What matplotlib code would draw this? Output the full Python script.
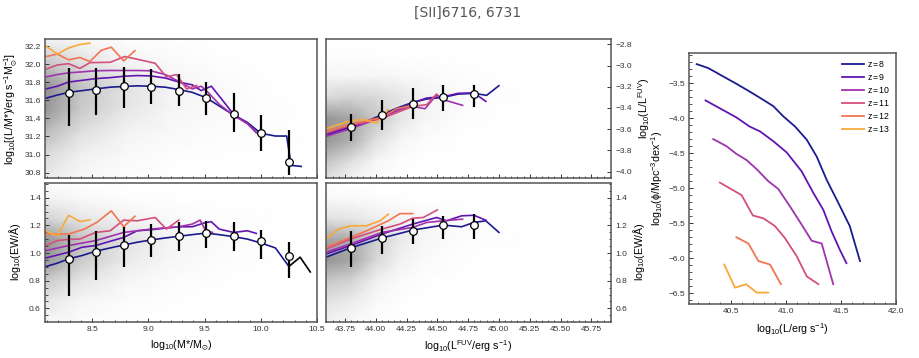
import numpy as np
import matplotlib
matplotlib.use("Agg")
import matplotlib.pyplot as plt
from matplotlib.ticker import MultipleLocator
from matplotlib import font_manager

names = {f.name for f in font_manager.fontManager.ttflist}
narrow = 'Liberation Sans Narrow' if 'Liberation Sans Narrow' in names else 'Liberation Sans'
plt.rcParams['font.family'] = [narrow, 'DejaVu Sans']
plt.rcParams['mathtext.fontset'] = 'custom'
plt.rcParams['mathtext.rm'] = narrow
plt.rcParams['mathtext.it'] = narrow + ':italic'
plt.rcParams['mathtext.default'] = 'regular'

# ---------------- data ----------------
redshifts = [8, 9, 10, 11, 12, 13]
colors = ['#1b1b8f', '#6015b3', '#a032ae', '#d44f7e', '#f27552', '#f9a93a']

# top-left: log10(L/M*) vs log10(M*)
tl_x = {8: [8.09, 8.19, 8.29, 8.41, 8.53, 8.66, 8.78, 8.90, 9.02, 9.15, 9.27, 9.39, 9.51, 9.63, 9.76, 9.88, 10.0, 10.13, 10.23, 10.27, 10.36],
        9: [8.09, 8.19, 8.29, 8.41, 8.53, 8.66, 8.78, 8.90, 9.02, 9.15, 9.27, 9.39, 9.47, 9.56, 9.76, 9.88, 9.96],
        10: [8.09, 8.19, 8.29, 8.41, 8.53, 8.66, 8.78, 8.90, 9.02, 9.15, 9.27, 9.39, 9.47, 9.53, 9.63, 9.76, 9.88, 9.96],
        11: [8.09, 8.19, 8.29, 8.39, 8.48, 8.66, 8.79, 8.925, 9.06, 9.16, 9.25, 9.34, 9.43],
        12: [8.09, 8.19, 8.29, 8.39, 8.48, 8.58, 8.67, 8.78, 8.88],
        13: [8.09, 8.19, 8.29, 8.39, 8.48]}
tl_y = {8: [31.625, 31.659, 31.689, 31.708, 31.727, 31.746, 31.754, 31.761, 31.757, 31.746, 31.72, 31.689, 31.632, 31.538, 31.436, 31.356, 31.235, 31.205, 31.205, 30.88, 30.868],
        9: [31.727, 31.757, 31.803, 31.822, 31.841, 31.852, 31.867, 31.875, 31.871, 31.848, 31.803, 31.772, 31.708, 31.757, 31.443, 31.349, 31.243],
        10: [31.86, 31.886, 31.905, 31.916, 31.928, 31.931, 31.931, 31.931, 31.928, 31.886, 31.81, 31.727, 31.757, 31.689, 31.557, 31.432, 31.341, 31.243],
        11: [31.947, 31.992, 32.007, 31.954, 32.018, 32.022, 32.086, 32.049, 32.011, 31.86, 31.886, 31.727, 31.765],
        12: [32.086, 32.113, 32.049, 32.075, 32.03, 32.155, 32.189, 32.037, 32.151],
        13: [32.2, 32.113, 32.181, 32.219, 32.234]}
mass_bins = [8.29, 8.53, 8.78, 9.02, 9.27, 9.51, 9.76, 10.0, 10.25]
tl_med = [31.678, 31.72, 31.754, 31.746, 31.708, 31.625, 31.45, 31.235, 30.913]
tl_lo = [31.311, 31.436, 31.515, 31.56, 31.538, 31.443, 31.254, 31.038, 30.774]
tl_hi = [31.954, 31.96, 31.965, 31.946, 31.894, 31.80, 31.678, 31.443, 31.273]

# bottom-left: log10(EW) vs log10(M*)
bl_x = {8: [8.09, 8.19, 8.29, 8.41, 8.53, 8.66, 8.78, 8.90, 9.02, 9.15, 9.27, 9.39, 9.51, 9.63, 9.76, 9.88, 10.0, 10.13, 10.25],
        9: [8.09, 8.29, 8.41, 8.53, 8.66, 8.78, 8.90, 9.02, 9.15, 9.27, 9.39, 9.51, 9.56, 9.63, 9.76, 9.88, 9.96],
        10: [8.09, 8.29, 8.53, 8.78, 9.02, 9.27, 9.39, 9.46, 9.51, 9.57],
        11: [8.09, 8.19, 8.29, 8.39, 8.53, 8.66, 8.78, 8.90, 9.06, 9.16, 9.27],
        12: [8.09, 8.29, 8.43, 8.54, 8.67, 8.78, 8.88],
        13: [8.09, 8.19, 8.29, 8.39, 8.48]}
bl_y = {8: [0.903, 0.927, 0.958, 0.982, 1.013, 1.037, 1.058, 1.078, 1.094, 1.109, 1.121, 1.133, 1.144, 1.133, 1.118, 1.101, 1.073, 1.037, 0.903],
        9: [0.965, 1.006, 1.042, 1.054, 1.085, 1.113, 1.161, 1.168, 1.18, 1.19, 1.19, 1.221, 1.226, 1.173, 1.149, 1.161, 1.142],
        10: [1.018, 1.054, 1.09, 1.149, 1.173, 1.19, 1.209, 1.238, 1.161, 1.149],
        11: [1.054, 1.09, 1.099, 1.101, 1.149, 1.161, 1.238, 1.233, 1.257, 1.173, 1.238],
        12: [1.137, 1.137, 1.173, 1.221, 1.305, 1.19, 1.266],
        13: [1.156, 1.125, 1.273, 1.228, 1.24]}
bl_all_x = [10.25, 10.35, 10.44]
bl_all_y = [0.903, 0.97, 0.863]
bl_med = [0.958, 1.011, 1.058, 1.097, 1.121, 1.142, 1.121, 1.09, 0.975]
bl_lo = [0.688, 0.808, 0.898, 0.97, 1.018, 1.037, 1.013, 0.958, 0.822]
bl_hi = [1.13, 1.161, 1.185, 1.209, 1.226, 1.233, 1.226, 1.168, 1.078]

# top-middle: log10(L/LFUV) vs log10(LFUV)
tm_x = {8: [43.596, 43.796, 43.926, 44.048, 44.175, 44.30, 44.413, 44.548, 44.67, 44.797, 44.90, 45.0],
        9: [43.596, 43.796, 44.048, 44.30, 44.413, 44.548, 44.67, 44.797, 44.894],
        10: [43.596, 43.796, 44.048, 44.196, 44.30, 44.40, 44.494, 44.548, 44.705],
        11: [43.596, 43.796, 44.048, 44.30, 44.413, 44.494],
        12: [43.596, 43.796, 44.048, 44.17, 44.30],
        13: [43.596, 43.796, 43.899, 44.007, 44.102]}
tm_y = {8: [-3.652, -3.574, -3.526, -3.464, -3.40, -3.347, -3.316, -3.30, -3.269, -3.262, -3.281, -3.19],
        9: [-3.658, -3.583, -3.479, -3.353, -3.306, -3.294, -3.262, -3.258, -3.338],
        10: [-3.668, -3.595, -3.489, -3.416, -3.385, -3.407, -3.275, -3.322, -3.375],
        11: [-3.637, -3.564, -3.50, -3.385, -3.369, -3.269],
        12: [-3.621, -3.552, -3.489, -3.407, -3.375],
        13: [-3.595, -3.52, -3.51, -3.542, -3.416]}
fuv_bins = [43.796, 44.048, 44.30, 44.548, 44.797]
tm_med = [-3.577, -3.47, -3.36, -3.30, -3.269]
tm_lo = [-3.709, -3.605, -3.50, -3.432, -3.394]
tm_hi = [-3.457, -3.328, -3.212, -3.18, -3.18]

# bottom-middle: log10(EW) vs log10(LFUV)
bm_x = {8: [43.596, 43.796, 44.048, 44.30, 44.548, 44.697, 44.797, 44.894, 45.0],
        9: [43.596, 43.796, 44.048, 44.30, 44.494, 44.575, 44.697, 44.797, 44.894],
        10: [43.596, 43.796, 44.048, 44.30, 44.413, 44.548, 44.705],
        11: [43.596, 43.796, 44.048, 44.196, 44.30, 44.386, 44.50],
        12: [43.596, 43.796, 43.926, 44.102, 44.196, 44.30],
        13: [43.596, 43.696, 43.796, 43.926, 44.034, 44.102]}
bm_y = {8: [0.97, 1.037, 1.108, 1.166, 1.202, 1.19, 1.221, 1.233, 1.149],
        9: [0.994, 1.054, 1.137, 1.209, 1.257, 1.233, 1.269, 1.273, 1.237],
        10: [1.006, 1.066, 1.149, 1.185, 1.221, 1.233, 1.245],
        11: [1.03, 1.101, 1.173, 1.209, 1.252, 1.257, 1.312],
        12: [1.042, 1.113, 1.161, 1.233, 1.285, 1.285],
        13: [1.101, 1.173, 1.197, 1.197, 1.233, 1.281]}
bm_med = [1.037, 1.106, 1.161, 1.202, 1.204]
bm_lo = [0.898, 0.994, 1.066, 1.101, 1.101]
bm_hi = [1.161, 1.197, 1.245, 1.269, 1.285]

# right: luminosity function
lf_x = {8: [40.19, 40.295, 40.43, 40.55, 40.67, 40.795, 40.886, 40.977, 41.083, 41.19, 41.28, 41.37, 41.476, 41.58, 41.673],
        9: [40.27, 40.40, 40.55, 40.67, 40.765, 40.886, 41.007, 41.143, 41.25, 41.34, 41.416, 41.49, 41.55],
        10: [40.34, 40.46, 40.55, 40.644, 40.735, 40.84, 40.93, 41.037, 41.143, 41.234, 41.325, 41.43],
        11: [40.40, 40.598, 40.70, 40.795, 40.90, 40.99, 41.098, 41.19, 41.295],
        12: [40.55, 40.66, 40.75, 40.856, 40.955],
        13: [40.44, 40.538, 40.638, 40.735, 40.84]}
lf_y = {8: [-3.23, -3.286, -3.405, -3.51, -3.62, -3.74, -3.83, -3.976, -4.12, -4.31, -4.55, -4.88, -5.21, -5.54, -6.04],
        9: [-3.748, -3.86, -3.99, -4.12, -4.19, -4.33, -4.49, -4.76, -5.07, -5.31, -5.62, -5.88, -6.07],
        10: [-4.30, -4.40, -4.51, -4.60, -4.73, -4.90, -5.01, -5.26, -5.52, -5.75, -5.79, -6.37],
        11: [-4.92, -5.10, -5.39, -5.43, -5.54, -5.71, -5.97, -6.26, -6.37],
        12: [-5.70, -5.79, -6.04, -6.09, -6.37],
        13: [-6.09, -6.42, -6.37, -6.49, -6.49]}

# background number density (grey shading), estimated on coarse grids
tl_dx = [8.08, 8.4, 8.8, 9.2, 9.6, 10.0, 10.5]
tl_dy = [30.74, 31.0, 31.25, 31.5, 31.75, 32.0, 32.28]
tl_dens = [[0.15, 0.25, 0.38, 0.50, 0.52, 0.35, 0.10],
           [0.06, 0.12, 0.22, 0.32, 0.35, 0.22, 0.05],
           [0.02, 0.05, 0.10, 0.18, 0.20, 0.10, 0.02],
           [0.00, 0.02, 0.05, 0.08, 0.10, 0.05, 0.01],
           [0.00, 0.01, 0.03, 0.04, 0.04, 0.02, 0.00],
           [0.00, 0.00, 0.02, 0.02, 0.01, 0.00, 0.00],
           [0.00, 0.00, 0.00, 0.00, 0.00, 0.00, 0.00]]
tm_dx = [43.6, 43.8, 44.0, 44.2, 44.4, 44.7, 45.0, 45.91]
tm_dy = [-4.06, -3.9, -3.7, -3.5, -3.3, -3.1, -2.9, -2.75]
tm_dens = [[0.20, 0.35, 0.50, 0.50, 0.25, 0.08, 0.02, 0.00],
           [0.10, 0.22, 0.42, 0.45, 0.28, 0.08, 0.02, 0.00],
           [0.03, 0.08, 0.22, 0.33, 0.25, 0.08, 0.01, 0.00],
           [0.00, 0.02, 0.08, 0.18, 0.18, 0.06, 0.00, 0.00],
           [0.00, 0.00, 0.03, 0.08, 0.10, 0.04, 0.00, 0.00],
           [0.00, 0.00, 0.00, 0.02, 0.04, 0.02, 0.00, 0.00],
           [0.00, 0.00, 0.00, 0.00, 0.01, 0.00, 0.00, 0.00],
           [0.00, 0.00, 0.00, 0.00, 0.00, 0.00, 0.00, 0.00]]
bl_dx = [8.08, 8.4, 8.8, 9.2, 9.6, 10.0, 10.5]
bl_dy = [0.5, 0.65, 0.8, 0.95, 1.1, 1.25, 1.4, 1.51]
bl_dens = [[0.08, 0.18, 0.32, 0.50, 0.50, 0.28, 0.10, 0.03],
           [0.03, 0.08, 0.18, 0.32, 0.35, 0.18, 0.05, 0.01],
           [0.01, 0.03, 0.08, 0.16, 0.20, 0.10, 0.02, 0.00],
           [0.00, 0.01, 0.03, 0.07, 0.09, 0.05, 0.01, 0.00],
           [0.00, 0.00, 0.01, 0.03, 0.04, 0.02, 0.00, 0.00],
           [0.00, 0.00, 0.00, 0.01, 0.01, 0.01, 0.00, 0.00],
           [0.00, 0.00, 0.00, 0.00, 0.00, 0.00, 0.00, 0.00]]
bm_dx = [43.6, 43.8, 44.0, 44.2, 44.4, 44.7, 45.0, 45.91]
bm_dy = [0.5, 0.65, 0.8, 0.95, 1.1, 1.25, 1.4, 1.51]
bm_dens = [[0.10, 0.20, 0.33, 0.50, 0.45, 0.20, 0.05, 0.01],
           [0.05, 0.15, 0.28, 0.45, 0.42, 0.18, 0.04, 0.00],
           [0.01, 0.05, 0.12, 0.26, 0.30, 0.14, 0.02, 0.00],
           [0.00, 0.01, 0.04, 0.11, 0.16, 0.09, 0.01, 0.00],
           [0.00, 0.00, 0.01, 0.04, 0.07, 0.05, 0.00, 0.00],
           [0.00, 0.00, 0.00, 0.01, 0.03, 0.02, 0.00, 0.00],
           [0.00, 0.00, 0.00, 0.00, 0.01, 0.00, 0.00, 0.00],
           [0.00, 0.00, 0.00, 0.00, 0.00, 0.00, 0.00, 0.00]]

# ---------------- figure ----------------
W, H = 919, 358
fig = plt.figure(figsize=(W / 100, H / 100), dpi=100)

def pax(x0, y0, x1, y1):
    return fig.add_axes([x0 / W, 1 - y1 / H, (x1 - x0) / W, (y1 - y0) / H])

ax_tl = pax(45, 39, 317, 178)
ax_bl = pax(45, 182.5, 317, 321.5)
ax_tm = pax(326, 39, 611, 178)
ax_bm = pax(326, 182.5, 611, 321.5)
ax_r = pax(689, 53, 896, 304)

spine_c = '#555555'
tick_fs = 6.0
lab_fs = 7.7

def style(ax):
    for s in ax.spines.values():
        s.set_color(spine_c)
        s.set_linewidth(1.1)
    ax.tick_params(which='both', direction='in', colors='#333333', labelsize=tick_fs,
                   length=3, width=0.7, pad=3)
    ax.tick_params(which='minor', length=1.8, width=0.6)

def bg(ax, dx, dy, dens):
    X, Y = np.meshgrid(dx, dy, indexing='ij')
    ax.pcolormesh(X, Y, np.array(dens), shading='gouraud', cmap='Greys',
                  vmin=0, vmax=1, zorder=0, rasterized=True)

def lines(ax, xs, ys):
    for z, c in zip(redshifts, colors):
        ax.plot(xs[z], ys[z], color=c, lw=1.2, zorder=2)

def errs(ax, x, med, lo, hi):
    med = np.array(med)
    ax.errorbar(x, med, yerr=[med - np.array(lo), np.array(hi) - med], fmt='o',
                color='black', ecolor='black', elinewidth=1.6, capsize=0,
                mfc='white', mec='black', mew=0.9, ms=5.5, zorder=4)

# top-left
bg(ax_tl, tl_dx, tl_dy, tl_dens)
lines(ax_tl, tl_x, tl_y)
errs(ax_tl, mass_bins, tl_med, tl_lo, tl_hi)
ax_tl.set_xlim(8.08, 10.5)
ax_tl.set_ylim(30.74, 32.28)
ax_tl.yaxis.set_major_locator(MultipleLocator(0.2))
ax_tl.xaxis.set_major_locator(MultipleLocator(0.5))
ax_tl.xaxis.set_minor_locator(MultipleLocator(0.1))
ax_tl.tick_params(labelbottom=False)
ax_tl.set_ylabel(r'log$_{10}$[(L/M*)/erg s$^{-1}$M$_{\odot}^{-1}$]', fontsize=lab_fs, labelpad=3)
style(ax_tl)

# bottom-left
bg(ax_bl, bl_dx, bl_dy, bl_dens)
ax_bl.plot(bl_all_x, bl_all_y, color='black', lw=1.2, zorder=2)
lines(ax_bl, bl_x, bl_y)
errs(ax_bl, mass_bins, bl_med, bl_lo, bl_hi)
ax_bl.set_xlim(8.08, 10.5)
ax_bl.set_ylim(0.505, 1.51)
ax_bl.yaxis.set_major_locator(MultipleLocator(0.2))
ax_bl.yaxis.set_minor_locator(MultipleLocator(0.05))
ax_bl.xaxis.set_major_locator(MultipleLocator(0.5))
ax_bl.xaxis.set_minor_locator(MultipleLocator(0.1))
ax_bl.set_ylabel(r'log$_{10}$(EW/Å)', fontsize=lab_fs)
ax_bl.set_xlabel(r'log$_{10}$(M*/M$_{\odot}$)', fontsize=lab_fs)
style(ax_bl)

# top-middle
bg(ax_tm, tm_dx, tm_dy, tm_dens)
lines(ax_tm, tm_x, tm_y)
errs(ax_tm, fuv_bins, tm_med, tm_lo, tm_hi)
ax_tm.set_xlim(43.596, 45.91)
ax_tm.set_ylim(-4.06, -2.75)
ax_tm.yaxis.set_major_locator(MultipleLocator(0.2))
ax_tm.xaxis.set_major_locator(MultipleLocator(0.25))
ax_tm.xaxis.set_minor_locator(MultipleLocator(0.05))
ax_tm.yaxis.tick_right()
ax_tm.yaxis.set_label_position('right')
ax_tm.tick_params(labelbottom=False)
ax_tm.set_ylabel(r'log$_{10}$(L/L$^{\rm FUV}$)', fontsize=lab_fs, labelpad=3)
style(ax_tm)

# bottom-middle
bg(ax_bm, bm_dx, bm_dy, bm_dens)
lines(ax_bm, bm_x, bm_y)
errs(ax_bm, fuv_bins, bm_med, bm_lo, bm_hi)
ax_bm.set_xlim(43.596, 45.91)
ax_bm.set_ylim(0.505, 1.51)
ax_bm.yaxis.set_major_locator(MultipleLocator(0.2))
ax_bm.yaxis.set_minor_locator(MultipleLocator(0.05))
ax_bm.xaxis.set_major_locator(MultipleLocator(0.25))
ax_bm.xaxis.set_minor_locator(MultipleLocator(0.05))
ax_bm.yaxis.tick_right()
ax_bm.yaxis.set_label_position('right')
ax_bm.set_ylabel(r'log$_{10}$(EW/Å)', fontsize=lab_fs, labelpad=3)
ax_bm.set_xlabel(r'log$_{10}$(L$^{\rm FUV}$/erg s$^{-1}$)', fontsize=lab_fs)
style(ax_bm)

# right: luminosity function
for z, c in zip(redshifts, colors):
    ax_r.plot(lf_x[z], lf_y[z], color=c, lw=1.3, label=r'z$\,$=$\,$%d' % z)
ax_r.set_xlim(40.12, 42.0)
ax_r.set_ylim(-6.653, -3.071)
ax_r.xaxis.set_major_locator(MultipleLocator(0.5))
ax_r.xaxis.set_minor_locator(MultipleLocator(0.1))
ax_r.yaxis.set_major_locator(MultipleLocator(0.5))
ax_r.yaxis.set_minor_locator(MultipleLocator(0.1))
ax_r.set_xlabel(r'log$_{10}$(L/erg s$^{-1}$)', fontsize=lab_fs)
ax_r.set_ylabel(r'log$_{10}$($\phi$/Mpc$^{-3}$dex$^{-1}$)', fontsize=lab_fs, labelpad=2)
ax_r.legend(loc='upper right', frameon=False, fontsize=6.3, handlelength=2.6,
            labelspacing=0.35, handletextpad=0.3, borderaxespad=0.25)
style(ax_r)

fig.text(468 / W, 1 - 13 / H, '[SII]6716, 6731', ha='center', va='center',
         fontsize=10, color='#555555', family='DejaVu Sans')

fig.savefig('out.png', dpi=100)
